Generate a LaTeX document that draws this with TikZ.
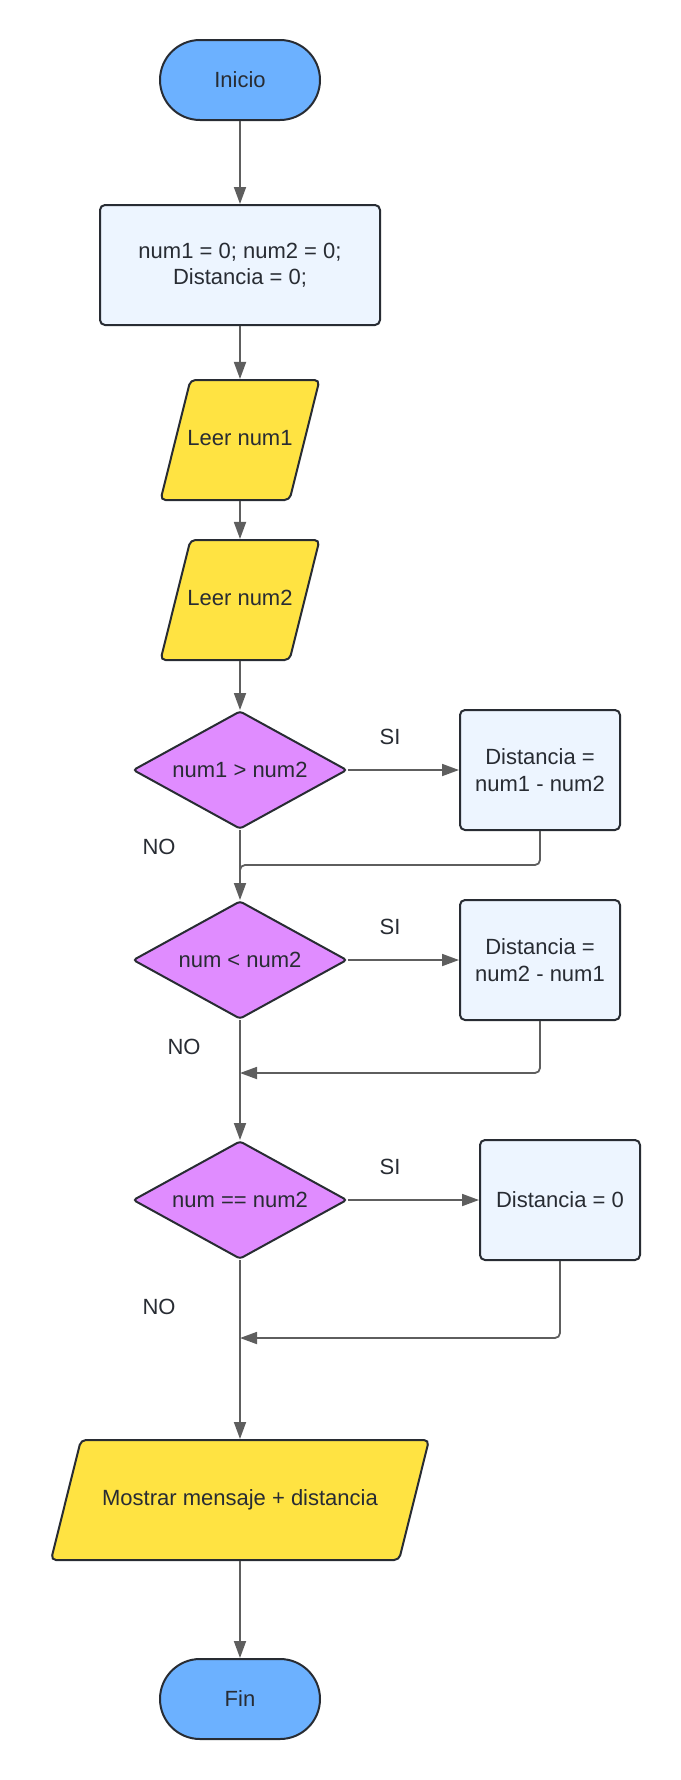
\documentclass[tikz,border=0pt]{standalone}
\usepackage{fontspec}
\setmainfont{Liberation Sans}
\usetikzlibrary{shapes.geometric,shapes.misc,arrows.meta}
\definecolor{azul}{HTML}{6CB1FF}
\definecolor{celeste}{HTML}{EDF5FF}
\definecolor{amarillo}{HTML}{FFE342}
\definecolor{morado}{HTML}{E08CFF}
\definecolor{borde}{HTML}{282C33}
\definecolor{gris}{HTML}{5E5E5E}
\begin{document}
\begin{tikzpicture}[x=1pt,y=-1pt,font=\fontsize{22}{26.5}\selectfont,text=borde,
		base/.style={draw=borde,line width=2pt,inner sep=0pt,align=center},
		terminal/.style={base,fill=azul,rounded rectangle,minimum width=160pt,minimum height=80pt},
		proceso/.style={base,fill=celeste,minimum height=120pt,rounded corners=5pt},
		entrada/.style={base,fill=amarillo,trapezium,trapezium left angle=76,trapezium right angle=104,trapezium stretches body,text height=65pt,text depth=55pt,rounded corners=5pt},
		decision/.style={base,fill=morado,diamond,aspect=1.81,minimum width=214pt,minimum height=118pt,rounded corners=3pt},
		flecha/.style={draw=gris,line width=1.8pt,-{Triangle[length=17pt,width=12pt]}},
		linea/.style={draw=gris,line width=1.8pt,rounded corners=5pt}]
		\useasboundingbox (0,0) rectangle (680,1780);
		\node[terminal] (ini) at (240,80) {Inicio};
		\node[proceso,minimum width=280pt] (b1) at (240,265) {num1 = 0; num2 = 0;\\Distancia = 0;};
		\node[entrada,inner xsep=-3pt] (lee1) at (240,440) {Leer num1};
		\node[entrada,inner xsep=-3pt] (lee2) at (240,600) {Leer num2};
		\node[decision] (d1) at (240,770) {num1 > num2};
		\node[proceso,minimum width=160pt] (b2) at (540,770) {Distancia =\\num1 - num2};
		\node[decision] (d2) at (240,960) {num < num2};
		\node[proceso,minimum width=160pt] (b3) at (540,960) {Distancia =\\num2 - num1};
		\node[decision] (d3) at (240,1200) {num == num2};
		\node[proceso,minimum width=160pt] (b4) at (560,1200) {Distancia = 0};
		\node[entrada,minimum width=378pt] (mos) at (240,1500) {Mostrar mensaje + distancia};
		\node[terminal] (fin) at (240,1699) {Fin};
		\node (si1) at (390,737) {SI};
		\node (no1) at (159,847) {NO};
		\node (si2) at (390,927) {SI};
		\node (no2) at (184,1047) {NO};
		\node (si3) at (390,1167) {SI};
		\node (no3) at (159,1307) {NO};
		\coordinate (m1) at (240,865);
		\coordinate (m2) at (240,1073);
		\coordinate (m3) at (240,1338);
		\draw[flecha] (ini) -- (b1);
		\draw[flecha] (b1) -- (lee1);
		\draw[flecha] (lee1) -- (lee2);
		\draw[flecha] (lee2) -- (d1);
		\draw[flecha] (d1) -- (b2);
		\draw[flecha] (d1) -- (d2);
		\draw[linea] (b2) |- (m1) -- ++(0,8);
		\draw[flecha] (d2) -- (b3);
		\draw[flecha] (d2) -- (d3);
		\draw[flecha,rounded corners=5pt] (b3) |- (m2);
		\draw[flecha] (d3) -- (b4);
		\draw[flecha] (d3) -- (mos);
		\draw[flecha,rounded corners=5pt] (b4) |- (m3);
		\draw[flecha] (mos) -- (fin);
	\end{tikzpicture}
\end{document}
